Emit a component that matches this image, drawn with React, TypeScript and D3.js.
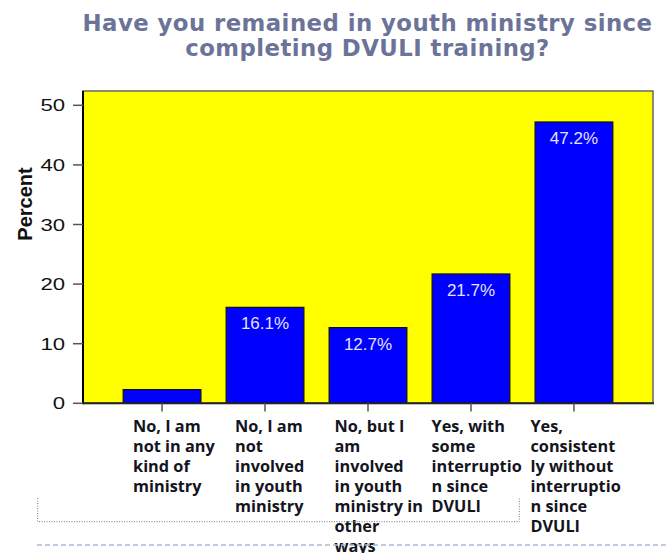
import React from "react";
import * as d3 from "d3";

const categories = [
  "No, I am not in any kind of ministry",
  "No, I am not involved in youth ministry",
  "No, but I am involved in youth ministry in other ways",
  "Yes, with some interruption since DVULI",
  "Yes, consistently without interruption since DVULI",
];
const categoryLines = [
  ["No, I am", "not in any", "kind of", "ministry"],
  ["No, I am", "not", "involved", "in youth", "ministry"],
  ["No, but I", "am", "involved", "in youth", "ministry in", "other", "ways"],
  ["Yes, with", "some", "interruptio", "n since", "DVULI"],
  ["Yes,", "consistent", "ly without", "interruptio", "n since", "DVULI"],
];
const values = [2.3, 16.1, 12.7, 21.7, 47.2];
const valueLabels = ["", "16.1%", "12.7%", "21.7%", "47.2%"];
const yTicks = [0, 10, 20, 30, 40, 50];
const titleLines = [
  "Have you remained in youth ministry since",
  "completing DVULI training?",
];
const yAxisTitle = "Percent";

const W = 667;
const H = 553;
const plotLeft = 83;
const plotRight = 653;
const yMax = 52.4;
const labelDx = [-29, -30, -33.5, -39.5, -43.5];

export default function App() {
  const x = d3
    .scaleBand<number>()
    .domain(d3.range(categories.length))
    .range([plotLeft, plotRight])
    .paddingInner(0.245)
    .paddingOuter(0.39);
  const y = d3.scaleLinear().domain([0, 50]).range([403.3, 105.3]);
  const plotTop = y(yMax);
  const plotBottom = y(0);

  return (
    <svg
      width={W}
      height={H}
      style={{ position: "absolute", left: 0, top: 0, background: "#fff" }}
    >
      {/* title */}
      {titleLines.map((t, i) => (
        <text
          key={i}
          x={367.5}
          y={31 + i * 24.5}
          textAnchor="middle"
          fontFamily="'DejaVu Sans', Verdana, sans-serif"
          fontWeight="bold"
          fontSize={22.8}
          letterSpacing={0.45}
          fill="#6c7399"
        >
          {t}
        </text>
      ))}

      {/* plot background */}
      <rect
        x={plotLeft}
        y={plotTop}
        width={plotRight - plotLeft}
        height={plotBottom - plotTop}
        fill="#ffff00"
        stroke="#666"
        strokeWidth={1.5}
      />

      {/* bars */}
      {values.map((v, i) => (
        <rect
          key={i}
          x={x(i)!}
          y={y(v)}
          width={x.bandwidth()}
          height={plotBottom - y(v)}
          fill="#0000ff"
          stroke="#111"
          strokeWidth={1.2}
        />
      ))}

      {/* value labels */}
      {values.map((v, i) =>
        valueLabels[i] ? (
          <text
            key={i}
            x={x(i)! + x.bandwidth() / 2}
            y={y(v) + 22}
            textAnchor="middle"
            fontFamily="Arial, 'Liberation Sans', sans-serif"
            fontSize={17}
            fill="#e2e2fa"
          >
            {valueLabels[i]}
          </text>
        ) : null
      )}

      {/* axes lines */}
      <line x1={plotLeft} x2={plotLeft} y1={plotTop} y2={plotBottom + 1} stroke="#000" strokeWidth={2} />
      <line x1={plotLeft} x2={plotRight + 1} y1={plotBottom} y2={plotBottom} stroke="#222" strokeWidth={2} />

      {/* y ticks */}
      {yTicks.map((t) => (
        <g key={t}>
          <line x1={73} x2={plotLeft} y1={y(t)} y2={y(t)} stroke="#555" strokeWidth={1.5} />
          <text
            transform={`translate(65,${y(t) + 6}) scale(1.28,1)`}
            textAnchor="end"
            fontFamily="Arial, 'Liberation Sans', sans-serif"
            fontSize={17.3}
            fill="#111"
          >
            {t}
          </text>
        </g>
      ))}

      {/* y axis title */}
      <text
        transform={`translate(31.5,204) rotate(-90)`}
        textAnchor="middle"
        fontFamily="Arial, 'Liberation Sans', sans-serif"
        fontWeight="bold"
        fontSize={20}
        fill="#111"
      >
        {yAxisTitle}
      </text>

      {/* x ticks and labels */}
      {categories.map((c, i) => {
        const cx = x(i)! + x.bandwidth() / 2;
        return (
          <g key={c}>
            <line x1={cx} x2={cx} y1={plotBottom} y2={411.5} stroke="#555" strokeWidth={1.5} />
            {categoryLines[i].map((ln, j) => (
              <text
                key={j}
                x={cx + labelDx[i]}
                y={432.3 + j * 20}
                fontFamily="'Open Sans', sans-serif"
                fontWeight="bold"
                fontSize={16.3}
                fill="#14141e"
              >
                {ln}
              </text>
            ))}
          </g>
        );
      })}

      {/* decorative dotted box and dashed line */}
      <path
        d="M37.7,498 L37.7,521.7 L519.3,521.7 L519.3,498"
        fill="none"
        stroke="#777"
        strokeWidth={1}
        strokeDasharray="1,1.5"
      />
      <line x1={37} x2={667} y1={545} y2={545} stroke="#a9bdd3" strokeWidth={1.5} strokeDasharray="5,3" />
    </svg>
  );
}
